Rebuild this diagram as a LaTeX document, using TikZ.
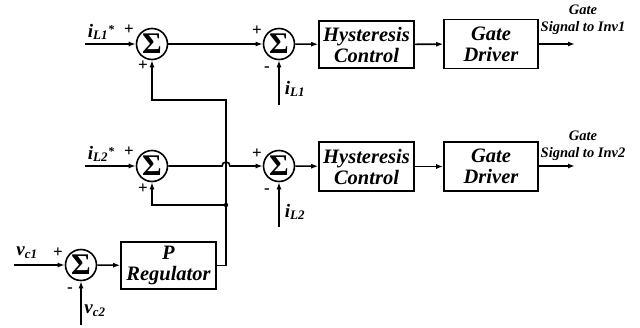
\documentclass[tikz,border=0pt]{standalone}
\usepackage{fontspec}
\setmainfont{Liberation Serif}
\usetikzlibrary{arrows.meta}
\tikzset{
  every path/.style={line width=1.6pt},
  sumnode/.style={circle,draw,line width=1.6pt,minimum size=31pt,inner sep=0pt,
    label={[inner sep=0pt,font=\bfseries\fontsize{30}{30}\selectfont]center:Σ}},
  blockbox/.style={draw,line width=1.6pt,inner sep=0pt,align=center,font=\bfseries\itshape\fontsize{20.5}{21}\selectfont},
  sig/.style={-{Latex[length=7pt,width=5pt]}},
  lbl/.style={inner sep=0pt,font=\bfseries\itshape\fontsize{19}{19}\selectfont},
  sgn/.style={inner sep=0pt,font=\bfseries\fontsize{17}{17}\selectfont},
  outlbl/.style={inner sep=0pt,align=center,font=\bfseries\itshape\fontsize{14.5}{17}\selectfont},
}
\newcommand{\cur}[2]{i\textsubscript{\fontsize{13}{13}\selectfont #1}#2}
\newcommand{\refstar}{\raisebox{4pt}{\fontsize{12}{12}\selectfont *}}
\begin{document}
\begin{tikzpicture}[x=1pt,y=-1pt]
\useasboundingbox (0,0) rectangle (640,327);
% row 1
\node[sumnode] (s1) at (152,44) {};
\node[sumnode] (s2) at (279,44) {};
\node[blockbox,minimum width=95pt,minimum height=47pt] (h1) at (366.5,44.5) {Hysteresis\\Control};
\node[blockbox,minimum width=94pt,minimum height=49pt] (g1) at (491,44) {Gate\\Driver};
\coordinate (in1) at (85,44);
\coordinate (fb1) at (279,105);
\coordinate (out1) at (575,44);
% row 2
\node[sumnode] (s3) at (152,166) {};
\node[sumnode] (s4) at (279,166) {};
\node[blockbox,minimum width=95pt,minimum height=49pt] (h2) at (366.5,166.5) {Hysteresis\\Control};
\node[blockbox,minimum width=94pt,minimum height=49pt] (g2) at (491,166.5) {Gate\\Driver};
\coordinate (in2) at (85,166);
\coordinate (fb2) at (279,227);
\coordinate (out2) at (575,166);
% row 3
\node[sumnode] (s5) at (81,265) {};
\node[blockbox,minimum width=95pt,minimum height=47pt] (pr) at (168.5,265.5) {P\\Regulator};
\coordinate (in3) at (14,265);
\coordinate (fb3) at (81,325);
% junctions
\coordinate (pc) at (226,265.5);
\coordinate (top) at (226,100);
\coordinate (j1) at (226,205);
% connectors
\draw[sig] (in1) -- (s1);
\draw[sig] (s1) -- (s2);
\draw[sig] (s2) -- (h1);
\draw[sig] (h1) -- (g1);
\draw[sig] (g1.east |- out1) -- (out1);
\draw[sig] (fb1) -- (s2);
\draw[sig] (in2) -- (s3);
\draw[sig] (s3.east) -- (222,166) arc[start angle=180,end angle=0,radius=4pt] -- (s4.west);
\draw[sig] (s4) -- (h2);
\draw[sig] (h2) -- (g2);
\draw[sig] (g2.east |- out2) -- (out2);
\draw[sig] (fb2) -- (s4);
\draw[sig] (in3) -- (s5);
\draw[sig] (s5) -- (pr);
\draw[sig] (fb3) -- (s5);
\draw[sig] (pr.east |- pc) -- (pc) -- (top) -| (s1.south);
\draw[sig] (j1) -| (s3.south);
\fill (j1) circle[radius=2.2pt];
% labels
\node[lbl] at (101,32) {\cur{L1}{\refstar}};
\node[lbl] at (101,154) {\cur{L2}{\refstar}};
\node[lbl] at (295,89) {\cur{L1}{}};
\node[lbl] at (295,212) {\cur{L2}{}};
\node[lbl] at (27,253) {v\textsubscript{\fontsize{13}{13}\selectfont c1}};
\node[lbl] at (95,311) {v\textsubscript{\fontsize{13}{13}\selectfont c2}};
\node[sgn] at (129,30) {+};
\node[sgn] at (143,66) {+};
\node[sgn] at (257,31) {+};
\node[sgn] at (267,69) {-};
\node[sgn] at (129,152) {+};
\node[sgn] at (143,189) {+};
\node[sgn] at (257,154) {+};
\node[sgn] at (267,191) {-};
\node[sgn] at (58,253) {+};
\node[sgn] at (70,290) {-};
\node[outlbl] at (583,20) {Gate\\Signal to Inv1};
\node[outlbl] at (583,146) {Gate\\Signal to Inv2};
\end{tikzpicture}
\end{document}
